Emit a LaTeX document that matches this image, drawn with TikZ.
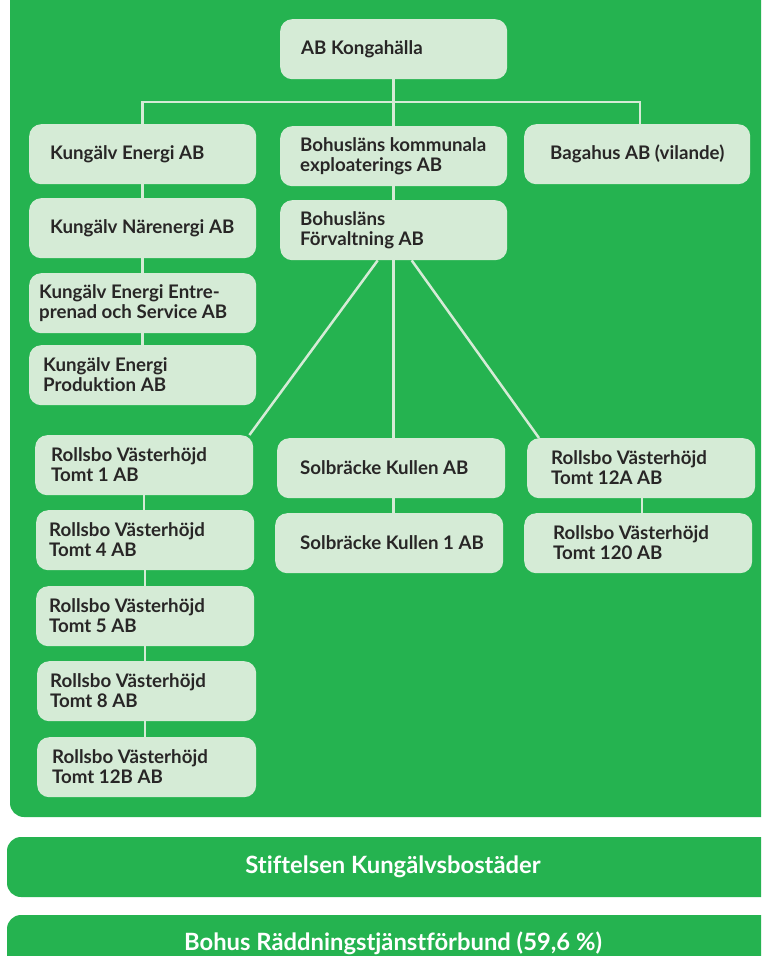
\documentclass[tikz,border=0pt]{standalone}
\usepackage{fontspec}
\setmainfont{Lato}[Ligatures=NoCommon]
\usetikzlibrary{calc}
\definecolor{panelgreen}{RGB}{37,179,80}
\definecolor{boxfill}{RGB}{213,235,214}
\definecolor{linec}{RGB}{213,235,214}
\definecolor{txt}{RGB}{40,38,38}
\tikzset{
  orgbox/.style={fill=boxfill, rounded corners=12pt, minimum height=60pt, anchor=north west, inner sep=0pt},
  orgtext/.style={anchor=west, inner sep=0pt, align=left, text=txt, font=\fontsize{18.7}{20}\selectfont\bfseries},
  link/.style={draw=linec, line width=2.5pt},
  bartext/.style={text=white, inner sep=0pt, font=\fontsize{23.8}{26}\selectfont\bfseries}
}
% name, x, y, width, text-x, text
\newcommand\obox[6]{%
  \node[orgbox, minimum width=#4pt] (#1) at (#2,#3) {};
  \node[orgtext] (#1t) at (#5, #3+30) {#6};
}
\newcommand\vlink[2]{\draw[link] (#1.south) -- (#1.south |- #2.north);}
\begin{document}
\begin{tikzpicture}[x=1pt,y=-1pt]
\clip (0,0) rectangle (761,956);
\fill[white] (0,0) rectangle (761,956);
\fill[panelgreen, rounded corners=14pt] (10,-30) rectangle (800,817);
\fill[panelgreen, rounded corners=14pt] (7,837) rectangle (800,897);
\fill[panelgreen, rounded corners=14pt] (7,915) rectangle (800,1000);
\node[bartext] (stift) at (393,867) {Stiftelsen Kungälvsbostäder};
\node[bartext] (bohus) at (393,943) {Bohus Räddningstjänstförbund (59,6 \%)};

\obox{kong}{280}{19}{227}{301}{AB Kongahälla}
\obox{ke}{29}{124}{227}{50}{Kungälv Energi AB}
\obox{kexp}{280}{126}{227}{300}{Bohusläns kommunala\\exploaterings AB}
\obox{bag}{524}{124}{226}{550}{Bagahus AB (vilande)}
\obox{kn}{29}{198}{227}{50}{Kungälv Närenergi AB}
\obox{forv}{280}{200}{227}{300}{Bohusläns\\Förvaltning AB}
\obox{kes}{29}{273}{227}{39}{Kungälv Energi Entre-\\prenad och Service AB}
\obox{kep}{29}{345}{227}{43}{Kungälv Energi\\Produktion AB}
\obox{tone}{35}{435}{218}{51}{Rollsbo Västerhöjd\\Tomt 1 AB}
\obox{sk}{277}{438}{228}{300}{Solbräcke Kullen AB}
\obox{rta}{527}{438}{228}{551}{Rollsbo Västerhöjd\\Tomt 12A AB}
\obox{tfour}{36}{510}{218}{49}{Rollsbo Västerhöjd\\Tomt 4 AB}
\obox{skone}{275}{513}{228}{300}{Solbräcke Kullen 1 AB}
\obox{rtz}{524}{513}{228}{553}{Rollsbo Västerhöjd\\Tomt 120 AB}
\obox{tfive}{36}{586}{218}{49}{Rollsbo Västerhöjd\\Tomt 5 AB}
\obox{teight}{37}{661}{219}{50}{Rollsbo Västerhöjd\\Tomt 8 AB}
\obox{ttb}{37}{737}{219}{52}{Rollsbo Västerhöjd\\Tomt 12B AB}

\coordinate (bus) at (393,102);
\draw[link] (kong.south) -- (kong.south |- kexp.north);
\draw[link] (ke.north) -- (ke.north |- bus) -- ($(bag.north |- bus)+(3,0)$) -- ($(bag.north)+(3,0)$);
\vlink{ke}{kn}
\vlink{kn}{kes}
\vlink{kes}{kep}
\vlink{kexp}{forv}
\draw[link] ($(forv.south)+(-16,0)$) -- ($(tone.north east)+(-4,0)$);
\draw[link] ($(forv.south)+(18,0)$) -- ($(rta.north west)+(12,0)$);
\vlink{forv}{sk}
\draw[link] (sk.north -| forv.south) ++(0,60) -- (skone.north -| forv.south);
\draw[link] ($(rta.south)+(1,0)$) -- ($(rta.south |- rtz.north)+(1,0)$);
\vlink{tone}{tfour}
\vlink{tfour}{tfive}
\vlink{tfive}{teight}
\draw[link] (teight.south -| tfive.south) -- (ttb.north -| tfive.south);
\end{tikzpicture}
\end{document}
